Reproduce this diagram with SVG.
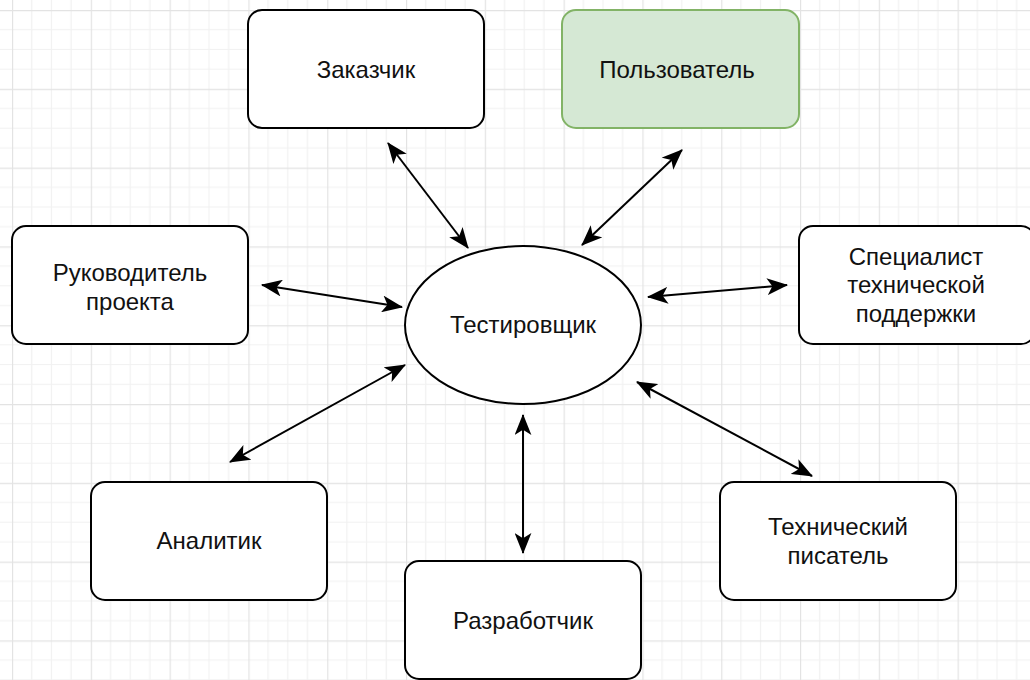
<svg xmlns="http://www.w3.org/2000/svg" width="1030" height="680" viewBox="0 0 1030 680">
  <defs>
    <pattern id="grid" x="12" y="10" width="78.8" height="78.8" patternUnits="userSpaceOnUse">
      <g stroke="#f1f1f1" stroke-width="1.2">
        <line x1="19.7" y1="0" x2="19.7" y2="78.8"/>
        <line x1="39.4" y1="0" x2="39.4" y2="78.8"/>
        <line x1="59.1" y1="0" x2="59.1" y2="78.8"/>
        <line x1="0" y1="19.7" x2="78.8" y2="19.7"/>
        <line x1="0" y1="39.4" x2="78.8" y2="39.4"/>
        <line x1="0" y1="59.1" x2="78.8" y2="59.1"/>
      </g>
      <g stroke="#e3e3e3" stroke-width="1.4">
        <line x1="0.5" y1="0" x2="0.5" y2="78.8"/>
        <line x1="0" y1="0.5" x2="78.8" y2="0.5"/>
      </g>
    </pattern>
    <marker id="head" viewBox="0 0 20 16" refX="19" refY="8" markerWidth="21" markerHeight="17" markerUnits="userSpaceOnUse" orient="auto-start-reverse">
      <path d="M0,0 L20,8 L0,16 L5,8 Z" fill="#000"/>
    </marker>
  </defs>
  <style>
    .box { fill: #ffffff; stroke: #000000; stroke-width: 2; }
    .green { fill: #d5e8d4; stroke: #82b366; }
    .lbl { font-family: "Liberation Sans", Arial, sans-serif; font-size: 24px; fill: #111; text-anchor: middle; }
    .link { stroke: #000; stroke-width: 2; fill: none; marker-start: url(#head); marker-end: url(#head); }
  </style>

  <rect width="1030" height="680" fill="#ffffff"/>
  <rect width="1030" height="680" fill="url(#grid)"/>

  <!-- connectors between the tester and each role -->
  <g id="connectors">
    <line class="link" x1="388" y1="143" x2="468" y2="248"/>
    <line class="link" x1="682" y1="150" x2="582" y2="245"/>
    <line class="link" x1="262" y1="285" x2="402" y2="307"/>
    <line class="link" x1="648" y1="297" x2="787" y2="285"/>
    <line class="link" x1="230" y1="462" x2="405" y2="365"/>
    <line class="link" x1="523" y1="415" x2="523" y2="553"/>
    <line class="link" x1="637" y1="382" x2="812" y2="476"/>
  </g>

  <g id="tester">
    <ellipse class="box" cx="523" cy="325" rx="118" ry="79"/>
    <text class="lbl" x="523" y="333">Тестировщик</text>
  </g>

  <g id="customer">
    <rect class="box" x="248" y="10" width="236" height="118" rx="14"/>
    <text class="lbl" x="366" y="78">Заказчик</text>
  </g>

  <g id="user">
    <rect class="box green" x="562" y="10" width="237" height="118" rx="14"/>
    <text class="lbl" x="677" y="78">Пользователь</text>
  </g>

  <g id="project-manager">
    <rect class="box" x="12" y="226" width="236" height="118" rx="14"/>
    <text class="lbl" x="130" y="281">Руководитель</text>
    <text class="lbl" x="130" y="309.5">проекта</text>
  </g>

  <g id="support">
    <rect class="box" x="799" y="226" width="236" height="118" rx="14"/>
    <text class="lbl" x="916" y="264.5">Специалист</text>
    <text class="lbl" x="916" y="293">технической</text>
    <text class="lbl" x="916" y="321.5">поддержки</text>
  </g>

  <g id="analyst">
    <rect class="box" x="91" y="482" width="236" height="118" rx="14"/>
    <text class="lbl" x="209" y="549">Аналитик</text>
  </g>

  <g id="developer">
    <rect class="box" x="405" y="561" width="236" height="118" rx="14"/>
    <text class="lbl" x="523" y="629">Разработчик</text>
  </g>

  <g id="tech-writer">
    <rect class="box" x="720" y="482" width="236" height="118" rx="14"/>
    <text class="lbl" x="838" y="535">Технический</text>
    <text class="lbl" x="838" y="563.5">писатель</text>
  </g>
</svg>
